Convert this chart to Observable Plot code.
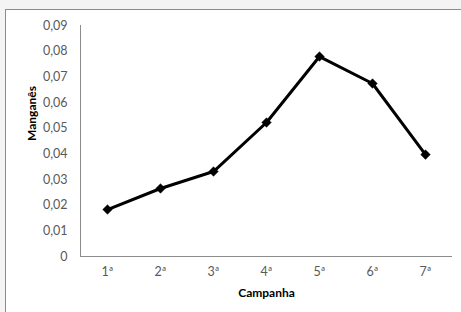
<!DOCTYPE html>
<html><head><meta charset="utf-8">
<script src="https://cdn.jsdelivr.net/npm/d3@7"></script>
<script src="https://cdn.jsdelivr.net/npm/@observablehq/plot@0.6"></script>
<style>
html,body{margin:0;padding:0;background:#f4f4f4;width:461px;height:312px;overflow:hidden;}
#frame{position:absolute;left:5px;top:9px;width:470px;height:320px;background:#fff;border:1px solid #8c8c8c;box-sizing:border-box;}
#chart{position:absolute;left:0;top:0;}
</style></head><body>
<div id="frame"></div>
<div id="chart"></div>
<script>
const categories = ["1ª","2ª","3ª","4ª","5ª","6ª","7ª"];
const values = [0.0183, 0.0265, 0.0331, 0.0522, 0.0779, 0.0674, 0.0397];
const yTicks = [0,0.01,0.02,0.03,0.04,0.05,0.06,0.07,0.08,0.09];
const yTickLabels = ["0","0,01","0,02","0,03","0,04","0,05","0,06","0,07","0,08","0,09"];
const xTitle = "Campanha";
const yTitle = "Manganês";

const data = categories.map((c,i)=>({c, v: values[i]}));
const font = "Lato, 'Open Sans', sans-serif";

const chart = Plot.plot({
  width: 461, height: 312,
  marginLeft: 80, marginRight: 9, marginTop: 25, marginBottom: 56,
  style: {background: "transparent", fontFamily: font, fontSize: "12.5px", color: "#595959"},
  x: {type: "point", domain: categories, padding: 0.5, label: null, axis: null},
  y: {domain: [0, 0.09], label: null, axis: null},
  marks: [
    Plot.axisX({ticks: categories, tickSize: 0, tickPadding: 11, label: null, fill: "#595959"}),
    Plot.axisY({ticks: yTicks, tickFormat: d => yTickLabels[yTicks.indexOf(d)], tickSize: 0, tickPadding: 13, label: null, fill: "#595959"}),
    Plot.ruleY([0], {stroke: "#8c8c8c"}),
    Plot.line(data, {x: "c", y: "v", stroke: "#000", strokeWidth: 3}),
    Plot.dot(data, {x: "c", y: "v", symbol: "diamond2", r: 4.3, fill: "#000", stroke: "#000", strokeWidth: 0.5}),
    Plot.text([xTitle], {frameAnchor: "bottom", dy: 40, fontWeight: "bold", fontSize: 12, fill: "#000"}),
    Plot.text([yTitle], {frameAnchor: "left", dx: -48, rotate: -90, fontWeight: "bold", fontSize: 12, fill: "#000"})
  ]
});
document.getElementById("chart").appendChild(chart);
d3.select(chart).append("line").attr("x1",80.5).attr("x2",80.5).attr("y1",25).attr("y2",256).attr("stroke","#8c8c8c");
</script>
</body></html>
